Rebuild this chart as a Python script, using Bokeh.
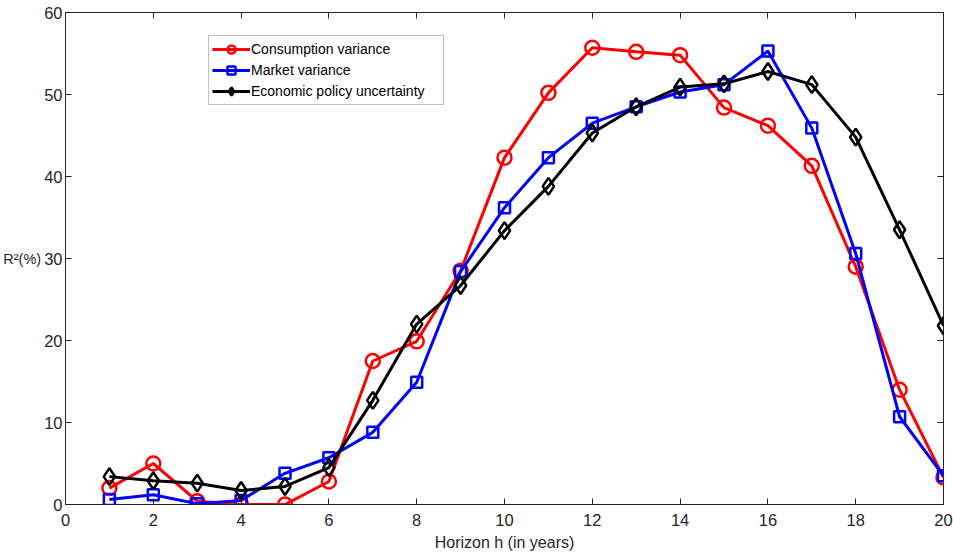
from bokeh.plotting import figure
from bokeh.models import Range1d, FixedTicker, LinearAxis, Legend, LegendItem
from bokeh.embed import file_html
from bokeh.resources import INLINE

horizon = list(range(1, 21))
consumption = [2.0, 5.0, 0.4, 0.0, 0.0, 2.8, 17.5, 19.9, 28.5, 42.3, 50.2, 55.7,
               55.2, 54.8, 48.4, 46.2, 41.3, 29.0, 14.0, 3.3]
market = [0.6, 1.2, 0.1, 0.5, 3.8, 5.7, 8.8, 14.9, 28.4, 36.2, 42.3, 46.5,
          48.5, 50.3, 51.2, 55.3, 45.9, 30.6, 10.7, 3.5]
epu = [3.4, 2.9, 2.6, 1.7, 2.2, 4.5, 12.7, 22.0, 26.7, 33.4, 38.8, 45.3,
       48.5, 50.9, 51.3, 52.8, 51.2, 44.8, 33.5, 21.8]
x_ticks = list(range(0, 21, 2))
y_ticks = list(range(0, 61, 10))

FONT = "Liberation Sans"
AX = "#262626"

p = figure(width=953, height=554, output_backend="svg", toolbar_location=None,
           x_range=Range1d(0, 20), y_range=Range1d(0, 60),
           min_border_left=60, min_border_right=10, min_border_top=12,
           min_border_bottom=50,
           background_fill_color="white", border_fill_color="white")
p.outline_line_color = AX
p.outline_line_width = 1
p.xgrid.visible = False
p.ygrid.visible = False

for ax in p.xaxis:
    ax.ticker = FixedTicker(ticks=x_ticks)
for ax in p.yaxis:
    ax.ticker = FixedTicker(ticks=y_ticks)

def style(ax, labels=True):
    ax.major_tick_in = 6
    ax.major_tick_out = 0
    ax.minor_tick_in = 0
    ax.minor_tick_out = 0
    ax.axis_line_color = AX
    ax.major_tick_line_color = AX
    ax.major_label_text_font = FONT
    ax.major_label_text_font_size = "16.5px"
    ax.major_label_text_color = AX
    ax.axis_label_text_font = FONT
    ax.axis_label_text_font_size = "16px"
    ax.axis_label_text_font_style = "normal"
    ax.axis_label_text_color = AX
    if not labels:
        ax.major_label_text_font_size = "0px"
        ax.major_label_standoff = 0

p.xaxis.axis_label = "Horizon h (in years)"
p.xaxis.axis_label_standoff = 5
p.xaxis.major_label_standoff = 9
p.yaxis.axis_label = "R²(%)"
p.yaxis.axis_label_orientation = "horizontal"
p.yaxis.axis_label_standoff = 0
p.yaxis.major_label_standoff = 3
style(p.xaxis[0])
style(p.yaxis[0])
p.yaxis[0].axis_label_text_font_size = "14.5px"

top = LinearAxis(ticker=FixedTicker(ticks=x_ticks))
style(top, labels=False)
top.axis_line_color = None
p.add_layout(top, "above")
right = LinearAxis(ticker=FixedTicker(ticks=y_ticks))
style(right, labels=False)
right.axis_line_color = None
p.add_layout(right, "right")

lw = 3
r1 = p.line(horizon, consumption, line_color="#FF0000", line_width=lw)
m1 = p.scatter(horizon, consumption, marker="circle", size=14, line_color="#FF0000",
               line_width=2.5, fill_color=None)
r2 = p.line(horizon, market, line_color="#0000FF", line_width=lw)
m2 = p.scatter(horizon, market, marker="square", size=11, line_color="#0000FF",
               line_width=2.5, fill_color=None)
r3 = p.line(horizon, epu, line_color="#000000", line_width=lw)
m3 = p.scatter(horizon, epu, marker="diamond", size=17, line_color="#000000",
               line_width=2.5, fill_color=None)

legend = Legend(items=[
    LegendItem(label="Consumption variance", renderers=[r1, m1]),
    LegendItem(label="Market variance", renderers=[r2, m2]),
    LegendItem(label="Economic policy uncertainty", renderers=[r3, m3]),
], location=(143, 399))
legend.label_text_font = FONT
legend.label_text_font_size = "14px"
legend.label_text_color = "black"
legend.label_standoff = 1
legend.label_width = 189
legend.glyph_width = 38
legend.glyph_height = 20
legend.spacing = 1
legend.padding = 3
legend.margin = 0
legend.border_line_color = "#808080"
legend.border_line_width = 1
legend.background_fill_color = "white"
legend.label_height = 20
p.add_layout(legend, "center")

open("out.html", "w").write(file_html(p, INLINE))
